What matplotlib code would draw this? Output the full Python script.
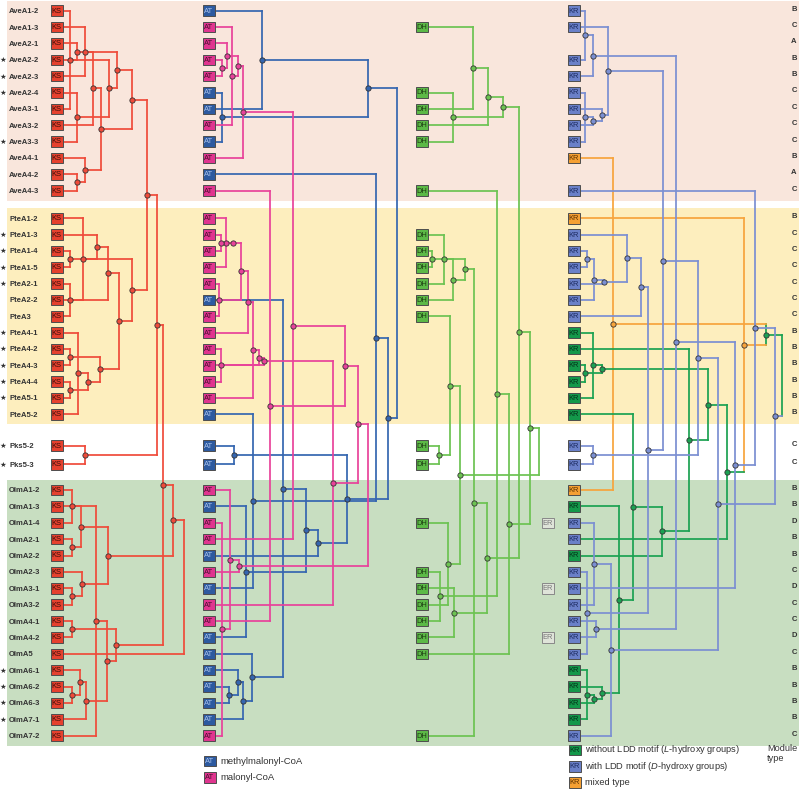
import matplotlib
matplotlib.use('Agg')
import matplotlib.pyplot as plt
from matplotlib.patches import Rectangle

plt.rcParams['font.family'] = ['Liberation Sans', 'DejaVu Sans']
plt.rcParams['mathtext.fontset'] = 'custom'
plt.rcParams['mathtext.it'] = 'Liberation Sans:italic'
plt.rcParams['mathtext.rm'] = 'Liberation Sans'

# ---- module data (one entry per row, top to bottom) ----
modules = ['AveA1-2', 'AveA1-3', 'AveA2-1', 'AveA2-2', 'AveA2-3', 'AveA2-4',
           'AveA3-1', 'AveA3-2', 'AveA3-3', 'AveA4-1', 'AveA4-2', 'AveA4-3',
           'PteA1-2', 'PteA1-3', 'PteA1-4', 'PteA1-5', 'PteA2-1', 'PteA2-2',
           'PteA3', 'PteA4-1', 'PteA4-2', 'PteA4-3', 'PteA4-4', 'PteA5-1', 'PteA5-2',
           'Pks5-2', 'Pks5-3',
           'OlmA1-2', 'OlmA1-3', 'OlmA1-4', 'OlmA2-1', 'OlmA2-2', 'OlmA2-3',
           'OlmA3-1', 'OlmA3-2', 'OlmA4-1', 'OlmA4-2', 'OlmA5', 'OlmA6-1',
           'OlmA6-2', 'OlmA6-3', 'OlmA7-1', 'OlmA7-2']
groups = ['AveA'] * 12 + ['PteA'] * 13 + ['Pks5'] * 2 + ['OlmA'] * 16
starred = ['AveA2-2', 'AveA2-3', 'AveA2-4', 'AveA3-3',
           'PteA1-3', 'PteA1-4', 'PteA1-5', 'PteA2-1', 'PteA4-1', 'PteA4-2',
           'PteA4-3', 'PteA4-4', 'PteA5-1', 'Pks5-2', 'Pks5-3',
           'OlmA6-1', 'OlmA6-2', 'OlmA6-3', 'OlmA7-1']
module_type = list('BCABBCCCCBAC' + 'BCCCCCCBBBBBB' + 'CC' + 'BBDBBCDCCDCBBBBC')
# AT substrate: M = methylmalonyl-CoA, m = malonyl-CoA
at_kind = list('MmmmmMMmMmMm' + 'mmmmmMmmmmmmM' + 'MM' + 'mMmmMmMmmMMMMMMm')
# KR type: L = without LDD, D = with LDD, X = mixed, - = none
kr_kind = list('DD-DDDDDDX-D' + 'XDDDDDDLLLLLL' + 'DD' + 'XLDDLDDDDDDLLLLD')

# ---- trees: (node depth, child, child[, clade]); ints are row indices ----
ks_tree = (184,
           (173,
            (163,
             (157,
              (147,
               (132,
                (117, (77, 2, 3), (109, (70, 0, 6), (77, 5, 8))),
                (101, (93, (85, 1, 4), 7), (85, 9, (77, 10, 11)))),
               (132,
                (70, 14, 15),
                (119,
                 (108, (97, 13, (83, 12, 17)), (70, 16, 18)),
                 (100, (70, 20, 21), (88, (78, 19, 24), (70, 22, 23)))))),
              (85, 25, 26)),
             (116, (72, 35, 36),
              (107, (96, (72, 27, 29), 42), (86, (80, 38, (72, 39, 40)), 41)))),
            (108, (81, 28, (72, 30, 31)), (82, 32, (72, 33, 34)))),
           37)

at_methyl_tree = (397,
                  (368, (262, 0, 6), (222, 5, 8)),
                  (388,
                   (376, 10, (253, 24, 33)),
                   (347, (234, 25, 26),
                    (318,
                     (306,
                      (283, 17, (252, 37, (243, (238, 38, (229, 39, 40)), 41))),
                      (246, 28, 36)),
                     31))))

at_malonyl_tree = (368,
                   (358,
                    (345,
                     (293, (243, (238, (227, 2, (222, 3, 4)), (232, 1, 7)), 9), 30),
                     (270, 11, 35)),
                    (333,
                     (264,
                      (259,
                       (253,
                        (248,
                         (241, (233, (226, 12, 15), (221, 13, 14)), (219, 16, 18)),
                         19),
                        23),
                       21),
                      (221, 20, 22)),
                     34)),
                   (239, (230, 27, (222, 29, 42)), 32))

dh_tree = (539,
           (530,
            (519,
             (503, (488, (473, 1, 6), 7), (453, 5, 8)),
             (487,
              (474, (465, (444, 13, 16), (453, (432, 14, 15), 17)), 42),
              (454, 33, 36))),
            (509, (497, 11, (440, 32, 35)), 37)),
           (460, (450, 18, (439, 25, 26)), (448, 29, 34)))

kr_tree = (782,
           (766,
            (613, 9, 27, 'X'),
            (744, 12,
             (727,
              (708,
               (602, (593, 19, 23), (585, 21, 22)),
               (689, 20,
                (662,
                 (633, 24, (619, 28, (602, 39, (594, (587, 38, 41), 40)))),
                 31))),
              30, 'L'),
             'X')),
           (775,
            (755, 11, (735, (676, (593, (585, 0, 3), 4), (596, 35, 36)), 33)),
            (718,
             (698,
              (663,
               (608, 1, (602, 6, (593, (585, 5, 8), 7))),
               (648,
                (641, (627, 13, (604, (594, (587, 14, 15), 17), 16)), 18),
                (587, 32, 37))),
              (593, 25, 26)),
             (611, (594, 29, 34), 42)),
            'D'),
           'L')

# ---- styles ----
KS_BOX, KS_LINE = '#e5412e', '#ef4b3a'
AT_BOX = {'M': '#2d5aa0', 'm': '#e0358f'}
AT_LINE = {'M': '#3566b0', 'm': '#e8429a'}
AT_TEXT = {'M': '#a9c1ea', 'm': '#4a1030'}
DH_BOX, DH_LINE = '#5cb947', '#6cc352'
KR_BOX = {'L': '#13984a', 'D': '#6a80c8', 'X': '#f5a033'}
KR_LINE = {'L': '#1ba152', 'D': '#7b8fd2', 'X': '#f7a43c'}
KR_TEXT = {'L': '#04301a', 'D': '#1b2a5e', 'X': '#5a3000'}
BANDS = {'AveA': '#f9e6dc', 'PteA': '#fdeebe', 'OlmA': '#c8dec1'}
GROUP_LAYOUT = {'AveA': (10.7, 16.36), 'PteA': (218.3, 16.33),
                'Pks5': (445.7, 18.6), 'OlmA': (490.0, 16.38)}
BOX_W, BOX_H = 12, 10.5
LW = 1.25

# row positions
row_y = []
counts = {}
for g in groups:
    k = counts.get(g, 0)
    top, step = GROUP_LAYOUT[g]
    row_y.append(top + k * step)
    counts[g] = k + 1

fig = plt.figure(figsize=(7.99, 7.96), dpi=100)
ax = fig.add_axes([0, 0, 1, 1])
ax.set_xlim(0, 799)
ax.set_ylim(796, 0)
ax.axis('off')

# background bands
for g, col in BANDS.items():
    ys = [y for y, gg in zip(row_y, groups) if gg == g]
    ax.add_patch(Rectangle((7, ys[0] - 10), 799 - 7, ys[-1] - ys[0] + 20,
                           fc=col, ec='none', zorder=0))


def node_pos(node, leaf_x):
    if isinstance(node, int):
        return leaf_x, row_y[node]
    ys = [node_pos(c, leaf_x)[1] for c in node[1:3]]
    return node[0], (ys[0] + ys[1]) / 2


def draw_tree(node, leaf_x, clade, palette, root=True):
    if len(node) > 3:
        clade = node[3]
    col = palette[clade]
    x = node[0]
    kids = node[1:3]
    pts = [node_pos(k, leaf_x) for k in kids]
    ax.plot([x, x], [min(p[1] for p in pts), max(p[1] for p in pts)],
            color=col, lw=LW, solid_capstyle='projecting', zorder=2)
    for k, (kx, ky) in zip(kids, pts):
        kcol = col
        if not isinstance(k, int):
            if len(k) > 3:
                kcol = palette[k[3]]
            draw_tree(k, leaf_x, clade, palette, False)
        ax.plot([kx, x], [ky, ky], color=kcol, lw=LW,
                solid_capstyle='projecting', zorder=2)
    if not root:
        y = node_pos(node, leaf_x)[1]
        ax.plot(x, y, 'o', ms=3.8, mfc=col, mec='#333333', mew=0.6, zorder=4)


def domain_box(x0, y, label, fc, tc='#222222', ec='#4d4d4d'):
    ax.add_patch(Rectangle((x0, y - BOX_H / 2), BOX_W, BOX_H, fc=fc, ec=ec,
                           lw=0.7, zorder=5))
    ax.text(x0 + BOX_W / 2, y + 0.4, label, ha='center', va='center',
            fontsize=5.4, color=tc, zorder=6)


draw_tree(ks_tree, 62, 'k', {'k': KS_LINE})
draw_tree(at_methyl_tree, 215, 'M', AT_LINE)
draw_tree(at_malonyl_tree, 215, 'm', AT_LINE)
draw_tree(dh_tree, 428, 'h', {'h': DH_LINE})
draw_tree(kr_tree, 580, 'L', KR_LINE)

for i, name in enumerate(modules):
    y = row_y[i]
    if name in starred:
        ax.text(3, y + 0.5, '\u2605', ha='center', va='center', fontsize=5.4,
                color='#333333', family='DejaVu Sans')
    ax.text(9, y + 1, name, ha='left', va='center', fontsize=5.5,
            fontweight='bold', color='#333333')
    domain_box(50.5, y, 'KS', KS_BOX, '#3a0d08')
    domain_box(203, y, 'AT', AT_BOX[at_kind[i]], AT_TEXT[at_kind[i]])
    if module_type[i] in 'CD':
        domain_box(416, y, 'DH', DH_BOX, '#1d3d12')
    if module_type[i] == 'D':
        domain_box(542, y, 'ER', '#dfe4d9', '#777777', '#888888')
    if kr_kind[i] != '-':
        domain_box(568, y, 'KR', KR_BOX[kr_kind[i]], KR_TEXT[kr_kind[i]])
    ax.text(794, y - 1.5, module_type[i], ha='center', va='center',
            fontsize=5.5, fontweight='bold', color='#333333')

# legends
at_legend = [('M', 'methylmalonyl-CoA'), ('m', 'malonyl-CoA')]
for j, (k, lab) in enumerate(at_legend):
    y = 761 + j * 16.5
    domain_box(204, y, 'AT', AT_BOX[k], AT_TEXT[k])
    ax.text(220, y, lab, ha='left', va='center', fontsize=6.8, color='#333333')

kr_legend = [('L', 'without LDD motif ($L$-hydroxy groups)'),
             ('D', 'with LDD motif ($D$-hydroxy groups)'),
             ('X', 'mixed type')]
for j, (k, lab) in enumerate(kr_legend):
    y = 750 + j * 16.3
    domain_box(569, y, 'KR', KR_BOX[k], KR_TEXT[k])
    ax.text(585, y, lab, ha='left', va='center', fontsize=6.7, color='#333333')

ax.text(767, 744, 'Module\ntype', ha='left', va='top', fontsize=6.6,
        color='#333333', linespacing=1.2)

fig.savefig('out.png', dpi=100)
